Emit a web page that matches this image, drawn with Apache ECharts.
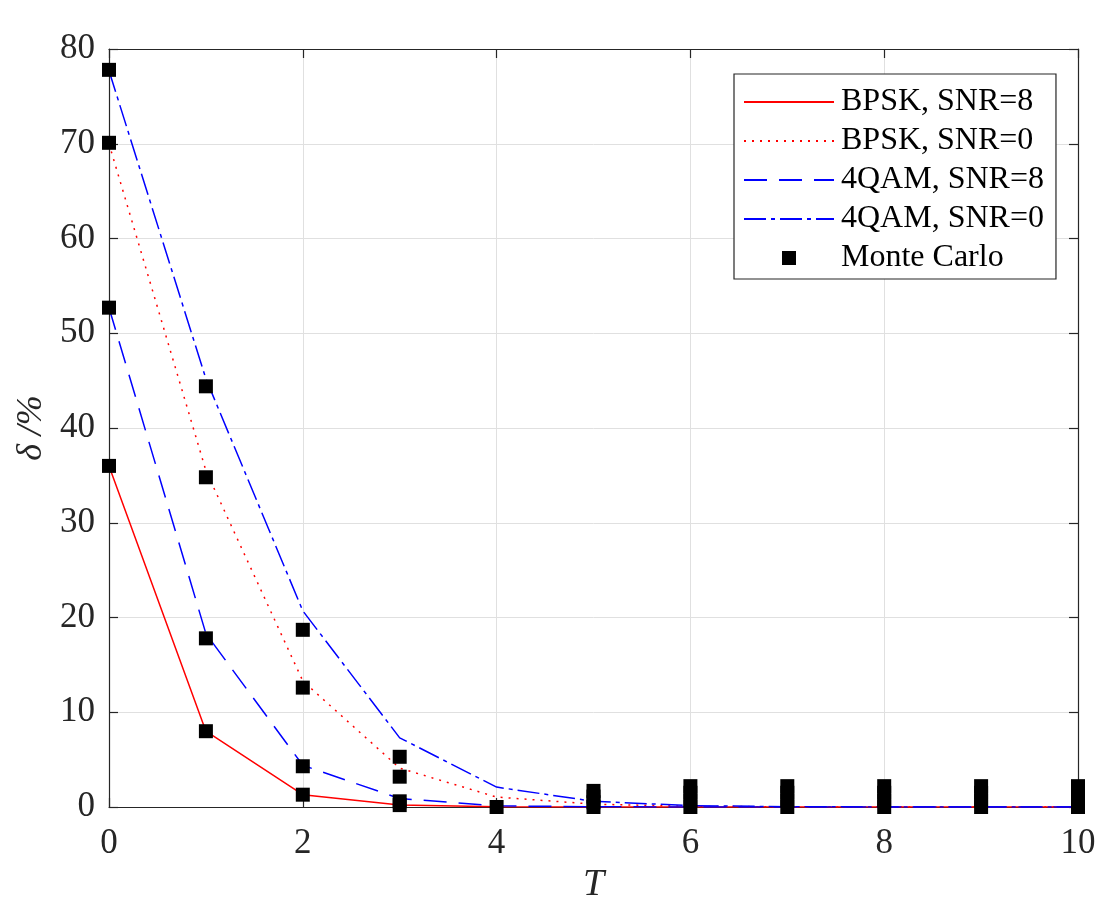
<!DOCTYPE html>
<html>
<head>
<meta charset="utf-8">
<script src="https://cdn.jsdelivr.net/npm/echarts@6/dist/echarts.min.js"></script>
<style>
html,body{margin:0;padding:0;background:#fff;}
#chart{width:1120px;height:919px;}
</style>
</head>
<body>
<div id="chart"></div>
<script>
var T = [0,1,2,3,4,5,6,7,8,9,10];
var bpsk8  = [36.0, 8.0, 1.3, 0.2, 0.03, 0.0, 0.0, 0.0, 0.0, 0.0, 0.0];
var bpsk0  = [70.0, 35.5, 13.3, 4.1, 1.05, 0.3, 0.07, 0.02, 0.0, 0.0, 0.0];
var qam8   = [52.7, 18.3, 4.4, 0.9, 0.12, 0.03, 0.0, 0.0, 0.0, 0.0, 0.0];
var qam0   = [77.7, 45.2, 20.7, 7.3, 2.1, 0.6, 0.15, 0.03, 0.0, 0.0, 0.0];
var mcX = [0,0,0,0, 1,1,1,1, 2,2,2,2, 3,3,3,3, 4, 5,5,5,5, 6,6,6,6, 7,7,7,7, 8,8,8,8, 9,9,9,9, 10,10,10,10];
var mcY = [77.8,70.1,52.7,36.0, 44.4,34.8,17.8,8.0, 18.7,12.6,4.3,1.3, 5.3,3.2,0.6,0.2, 0.0,
           1.7,1.1,0.5,0.0, 2.2,1.5,0.7,0.0, 2.2,1.5,0.7,0.0, 2.2,1.5,0.7,0.0, 2.2,1.5,0.7,0.0, 2.2,1.5,0.7,0.0];
var names = ['BPSK, SNR=8','BPSK, SNR=0','4QAM, SNR=8','4QAM, SNR=0','Monte Carlo'];

var font = 'Liberation Serif';
var axisColor = '#262626';
function pairs(ys){ return T.map(function(t,i){ return [t, ys[i]]; }); }
var mc = mcX.map(function(x,i){ return [x, mcY[i]]; });

var legendData = names.map(function(n, i){
  if (i < 4) return {name:n, itemStyle:{opacity:0}};
  return {name:n, icon:'path://M0,7L0,7M90,7L90,7M38,0L52,0L52,14L38,14Z'};
});

var chart = echarts.init(document.getElementById('chart'), null, {renderer:'canvas'});
var baseAxis = {
  axisLine:{show:true, onZero:false, lineStyle:{color:axisColor, width:1.2}},
  axisTick:{show:true, inside:true, length:9, lineStyle:{color:axisColor, width:1.2}},
};
chart.setOption({
  animation:false,
  backgroundColor:'#fff',
  grid:{left:109, right:42, top:49, bottom:112, containLabel:false},
  legend:{
    orient:'vertical', left:734, top:74,
    data:legendData,
    itemWidth:90, itemHeight:14, itemGap:7,
    padding:[12,12,5,9],
    borderColor:axisColor, borderWidth:1.2, backgroundColor:'#fff',
    textStyle:{fontFamily:font, fontSize:32, color:'#000', padding:[0,0,0,2]}
  },
  xAxis:[
    Object.assign({}, baseAxis, {
      type:'value', min:0, max:10, interval:2, position:'bottom',
      name:'T', nameLocation:'middle', nameGap:58,
      nameTextStyle:{fontFamily:font, fontSize:38, fontStyle:'italic', color:axisColor},
      axisLabel:{fontFamily:font, fontSize:35, color:axisColor, margin:19},
      splitLine:{show:true, lineStyle:{color:'#e0e0e0', width:1}}
    }),
    Object.assign({}, baseAxis, {
      type:'value', min:0, max:10, interval:2, position:'top',
      axisLabel:{show:false}, splitLine:{show:false}
    })
  ],
  yAxis:[
    Object.assign({}, baseAxis, {
      type:'value', min:0, max:80, interval:10, position:'left',
      name:'δ /%', nameLocation:'middle', nameGap:55, nameRotate:90,
      nameTextStyle:{fontFamily:font, fontSize:36, fontStyle:'italic', color:axisColor},
      axisLabel:{fontFamily:font, fontSize:35, color:axisColor, margin:14},
      splitLine:{show:true, lineStyle:{color:'#e0e0e0', width:1}}
    }),
    Object.assign({}, baseAxis, {
      type:'value', min:0, max:80, interval:10, position:'right',
      axisLabel:{show:false}, splitLine:{show:false}
    })
  ],
  series:[
    {name:names[0], type:'line', data:pairs(bpsk8), symbol:'none', z:3,
     lineStyle:{color:'#ff0000', width:1.5, type:'solid'}, itemStyle:{color:'#ff0000'}},
    {name:names[1], type:'line', data:pairs(bpsk0), symbol:'none', z:3,
     lineStyle:{color:'#ff0000', width:1.5, type:[2,6]}, itemStyle:{color:'#ff0000'}},
    {name:names[2], type:'line', data:pairs(qam8), symbol:'none', z:3,
     lineStyle:{color:'#0000ff', width:1.5, type:[23,12]}, itemStyle:{color:'#0000ff'}},
    {name:names[3], type:'line', data:pairs(qam0), symbol:'none', z:3,
     lineStyle:{color:'#0000ff', width:1.5, type:[22,5,4,5]}, itemStyle:{color:'#0000ff'}},
    {name:names[4], type:'scatter', data:mc, symbol:'rect', symbolSize:14, z:4,
     itemStyle:{color:'#000', opacity:1}}
  ]
});
</script>
</body>
</html>
